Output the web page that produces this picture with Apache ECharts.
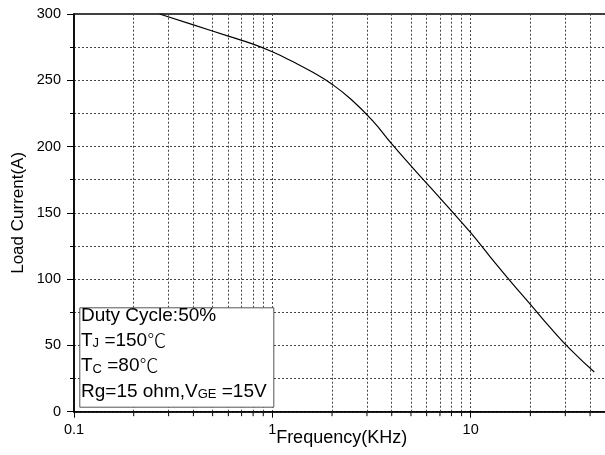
<!DOCTYPE html>
<html>
<head>
<meta charset="utf-8">
<script src="https://cdn.jsdelivr.net/npm/echarts@6/dist/echarts.min.js"></script>
<style>html,body{margin:0;padding:0;background:#fff}#c{width:605px;height:455px}</style>
</head>
<body>
<div id="c"></div>
<script>
// Data
const frequency = [0.27, 0.4, 0.6, 0.8, 1.0, 1.25, 1.6, 2.0, 2.5, 3.2, 4, 5, 6.3, 8, 10, 12.6, 16, 20, 25, 32, 42];
const loadCurrent = [300, 291.8, 283.3, 277.3, 271.5, 264.5, 256, 247, 235.5, 219.5, 202, 185.5, 168.8, 151.5, 135, 116.5, 97.8, 81, 64, 46.6, 30];
const xMajorTicks = [0.1, 1, 10];
const xMinorTicks = [0.2,0.3,0.4,0.5,0.6,0.7,0.8,0.9,2,3,4,5,6,7,8,9,20,30,40];
const yTicks = [0, 50, 100, 150, 200, 250, 300];

const FONT = 'Liberation Sans, Arial, sans-serif';
const chart = echarts.init(document.getElementById('c'), null, {renderer: 'canvas'});
const dotted = {color: '#444', width: 1, type: [2, 2]};

chart.setOption({
  animation: false,
  backgroundColor: '#fff',
  grid: {left: 74, top: 14, right: -4.3, bottom: 43.3, outerBoundsMode: 'none', containLabel: false,
         show: true, borderColor: '#000', borderWidth: 1.5, backgroundColor: 'transparent'},
  xAxis: {
    type: 'log', logBase: 10, min: 0.1, max: 50,
    name: 'Frequency(KHz)', nameLocation: 'middle', nameGap: 17, nameMoveOverlap: false,
    nameTextStyle: {fontFamily: FONT, fontSize: 18, color: '#000'},
    axisLine: {lineStyle: {color: '#000', width: 1.5}},
    axisTick: {show: true, length: 6, lineStyle: {color: '#000', width: 1}},
    axisLabel: {fontFamily: FONT, fontSize: 14.5, color: '#000', margin: 11, showMaxLabel: false,
      formatter: v => (xMajorTicks.some(t => Math.abs(t - v) < 1e-6) ? String(v) : '')},
    splitLine: {show: true, lineStyle: dotted}
  },
  yAxis: {
    type: 'value', min: 0, max: 300, interval: 50,
    name: 'Load Current(A)', nameLocation: 'middle', nameGap: 47, nameRotate: 90, nameMoveOverlap: false,
    nameTextStyle: {fontFamily: FONT, fontSize: 17, color: '#000'},
    axisLine: {show: true, lineStyle: {color: '#000', width: 1.5}},
    axisTick: {show: true, length: 7, lineStyle: {color: '#000', width: 1}},
    minorTick: {show: true, splitNumber: 2, length: 4, lineStyle: {color: '#000', width: 1}},
    axisLabel: {fontFamily: FONT, fontSize: 14.5, color: '#000', margin: 13,
      formatter: v => (yTicks.includes(v) ? String(v) : '')},
    splitLine: {show: true, lineStyle: dotted},
    minorSplitLine: {show: true, lineStyle: dotted}
  },
  series: [
    {
      type: 'line',
      data: frequency.map((f, i) => [f, loadCurrent[i]]),
      showSymbol: false, smooth: 0.5,
      lineStyle: {color: '#000', width: 1.2},
      z: 5,
      markLine: {
        silent: true, symbol: 'none', animation: false,
        label: {show: false},
        lineStyle: dotted,
        data: xMinorTicks.map(v => ({xAxis: v}))
      }
    },
    {
      type: 'custom', clip: false, silent: true, z: 6,
      data: xMinorTicks.map(v => [v, 0]),
      renderItem: function (params, api) {
        const p = api.coord([api.value(0), api.value(1)]);
        return {type: 'line', shape: {x1: p[0], y1: p[1], x2: p[0], y2: p[1] + 4.5},
                style: {stroke: '#000', lineWidth: 1}};
      }
    }
  ],
  graphic: [
    {type: 'rect', left: 79.3, top: 307.3, z: 20,
     shape: {width: 194, height: 99.4},
     style: {fill: '#fff', stroke: '#555', lineWidth: 1}},
    {type: 'text', left: 81, top: 306, z: 21,
     style: {
       text: '{b|Duty Cycle:50%}\n{b|T}{s|J}{b| =150}{d|℃}\n{b|T}{s|C}{b| =80}{d|℃}\n{b|Rg=15 ohm,V}{s|GE}{b| =15V}',
       rich: {
         b: {fontFamily: FONT, fontSize: 19, lineHeight: 25.3, fill: '#000', verticalAlign: 'bottom'},
         s: {fontFamily: FONT, fontSize: 13, lineHeight: 25.3, fill: '#000', verticalAlign: 'bottom'},
         d: {fontFamily: 'Noto Sans CJK SC', fontWeight: 300, fontSize: 19, lineHeight: 25.3, fill: '#000', verticalAlign: 'bottom'}
       }
     }}
  ]
});
</script>
</body>
</html>
